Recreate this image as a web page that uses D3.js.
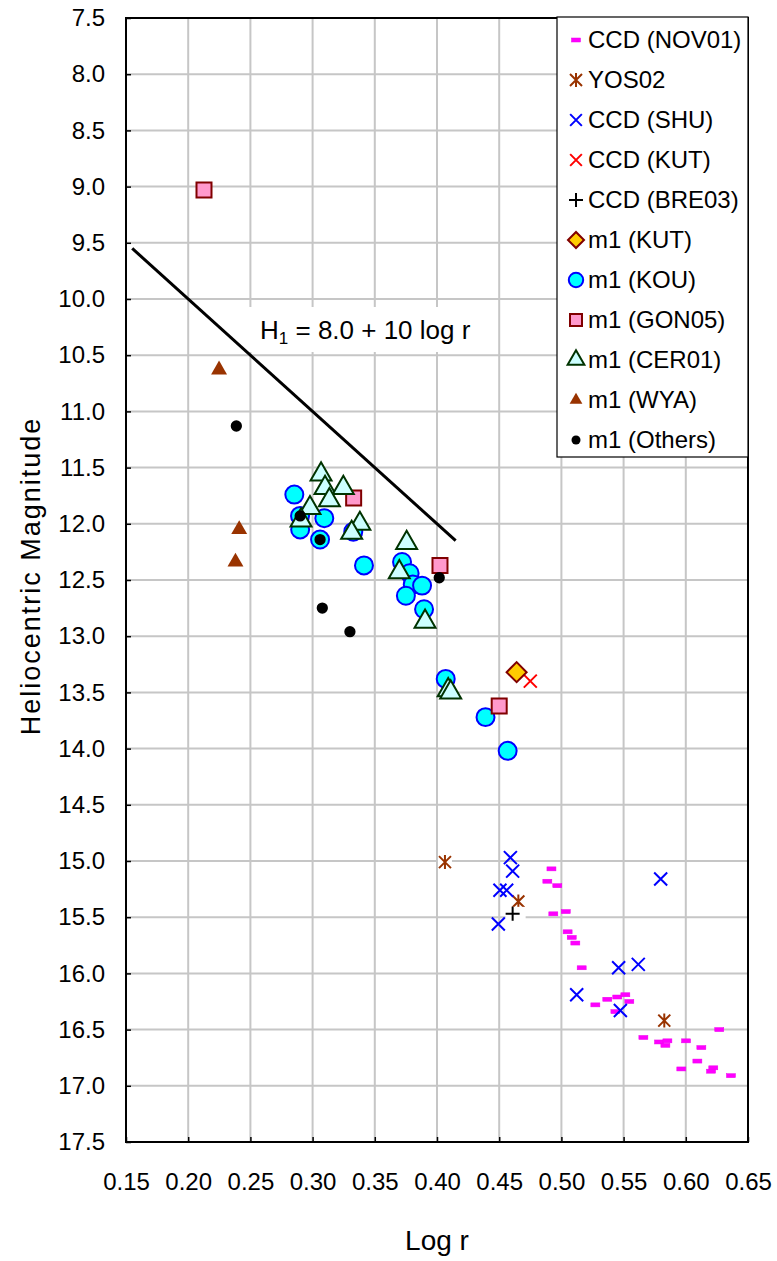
<!DOCTYPE html>
<html>
<head>
<meta charset="utf-8">
<script src="https://cdn.jsdelivr.net/npm/d3@7"></script>
<style>
  body { margin: 0; background: #fff; }
  text { font-family: Arial, "Liberation Sans", sans-serif; }
</style>
</head>
<body>
<div id="chart"></div>
<script>
// axis ticks
const xTicks = [0.15, 0.20, 0.25, 0.30, 0.35, 0.40, 0.45, 0.50, 0.55, 0.60, 0.65];
const yTicks = [7.5, 8.0, 8.5, 9.0, 9.5, 10.0, 10.5, 11.0, 11.5, 12.0, 12.5, 13.0, 13.5, 14.0, 14.5, 15.0, 15.5, 16.0, 16.5, 17.0, 17.5];

// series values [log r, H]
const ccdNov01 = [
  [0.492, 15.07], [0.4887, 15.18], [0.4967, 15.22], [0.4935, 15.47], [0.5035, 15.45],
  [0.505, 15.63], [0.5083, 15.68], [0.5112, 15.73], [0.5163, 15.95], [0.5273, 16.28],
  [0.5369, 16.23], [0.5449, 16.21], [0.5514, 16.19], [0.5546, 16.25], [0.5434, 16.34],
  [0.5659, 16.57], [0.5785, 16.61], [0.5852, 16.60], [0.5836, 16.64], [0.6002, 16.60],
  [0.6125, 16.66], [0.6269, 16.50], [0.6093, 16.78], [0.5964, 16.85], [0.6221, 16.84],
  [0.6203, 16.87], [0.6363, 16.91]
];
const yos02 = [[0.4064, 15.01], [0.4654, 15.36], [0.5827, 16.42]];
const ccdShu = [
  [0.459, 14.97], [0.4608, 15.09], [0.4506, 15.26], [0.456, 15.26], [0.4493, 15.56],
  [0.5123, 16.19], [0.5798, 15.16], [0.546, 15.95], [0.5618, 15.92], [0.5474, 16.33]
];
const ccdKut = [[0.475, 13.40]];
const ccdBre03 = [[0.4608, 15.47]];
const m1Kut = [[0.464, 13.32]];
const m1Kou = [
  [0.2853, 11.74], [0.2899, 11.93], [0.290, 12.05], [0.3094, 11.95], [0.306, 12.14],
  [0.3327, 12.07], [0.3413, 12.37], [0.3719, 12.34], [0.378, 12.44], [0.3805, 12.54],
  [0.388, 12.55], [0.375, 12.64], [0.3896, 12.76], [0.407, 13.38], [0.439, 13.72],
  [0.4568, 14.02]
];
const m1Gon05 = [[0.2127, 9.03], [0.333, 11.77], [0.4024, 12.37], [0.450, 13.62]];
const m1Cer01 = [
  [0.3068, 11.56], [0.310, 11.68], [0.3247, 11.68], [0.3135, 11.79], [0.2979, 11.86],
  [0.2907, 11.97], [0.338, 12.00], [0.3314, 12.08], [0.3756, 12.17], [0.3697, 12.43],
  [0.3904, 12.87], [0.409, 13.48], [0.411, 13.50]
];
const m1Wya = [[0.2248, 10.63], [0.241, 12.05], [0.238, 12.34]];
const m1Others = [
  [0.2387, 11.13], [0.290, 11.93], [0.306, 12.14], [0.3078, 12.75], [0.330, 12.96],
  [0.4018, 12.48]
];

// H1 = 8.0 + 10 log r line, end points
const lineX = [0.155, 0.415];
const lineY = [9.55, 12.15];

const seriesNames = ["CCD (NOV01)", "YOS02", "CCD (SHU)", "CCD (KUT)", "CCD (BRE03)",
  "m1 (KUT)", "m1 (KOU)", "m1 (GON05)", "m1 (CER01)", "m1 (WYA)", "m1 (Others)"];
const seriesData = [ccdNov01, yos02, ccdShu, ccdKut, ccdBre03, m1Kut, m1Kou, m1Gon05, m1Cer01, m1Wya, m1Others];

const width = 777;
const height = 1261;
const margin = {top: 18, right: 29, bottom: 119, left: 126};

const svg = d3.select("#chart")
  .append("svg")
  .attr("width", width)
  .attr("height", height);

const x = d3.scaleLinear()
  .domain([0.15, 0.65])
  .range([margin.left, width - margin.right]);

const y = d3.scaleLinear()
  .domain([7.5, 17.5])
  .range([margin.top, height - margin.bottom]);

// gridlines
svg.append("g")
  .selectAll("line")
  .data(xTicks)
  .join("line")
  .attr("x1", d => x(d)).attr("x2", d => x(d))
  .attr("y1", y(7.5)).attr("y2", y(17.5))
  .attr("stroke", "#c6c6c6").attr("stroke-width", 2);

svg.append("g")
  .selectAll("line")
  .data(yTicks)
  .join("line")
  .attr("x1", x(0.15)).attr("x2", x(0.65))
  .attr("y1", d => y(d)).attr("y2", d => y(d))
  .attr("stroke", "#c6c6c6").attr("stroke-width", 2);

// axes with inner ticks
const xAxis = d3.axisBottom(x)
  .tickValues(xTicks)
  .tickFormat(d3.format(".2f"))
  .tickSizeInner(-5).tickSizeOuter(0)
  .tickPadding(31);
const yAxis = d3.axisLeft(y)
  .tickValues(yTicks)
  .tickFormat(d3.format(".1f"))
  .tickSizeInner(-5).tickSizeOuter(0)
  .tickPadding(21);

const gx = svg.append("g")
  .attr("transform", `translate(0, ${y(17.5)})`)
  .call(xAxis);
const gy = svg.append("g")
  .attr("transform", `translate(${x(0.15)}, 0)`)
  .call(yAxis);
[gx, gy].forEach(g => {
  g.select(".domain").remove();
  g.selectAll(".tick line").attr("stroke", "#000").attr("stroke-width", 1.5);
  g.selectAll(".tick text").attr("font-size", 24).attr("fill", "#000")
    .attr("font-family", "Arial, 'Liberation Sans', sans-serif");
});

// plot border
svg.append("rect")
  .attr("x", x(0.15)).attr("y", y(7.5))
  .attr("width", x(0.65) - x(0.15)).attr("height", y(17.5) - y(7.5))
  .attr("fill", "none").attr("stroke", "#000").attr("stroke-width", 2);

// axis titles
svg.append("text")
  .attr("transform", `translate(40, ${(y(7.5) + y(17.5)) / 2 - 4}) rotate(-90)`)
  .attr("text-anchor", "middle")
  .attr("font-size", 27)
  .attr("letter-spacing", 2)
  .text("Heliocentric Magnitude");

svg.append("text")
  .attr("x", (x(0.15) + x(0.65)) / 2)
  .attr("y", 1250)
  .attr("text-anchor", "middle")
  .attr("font-size", 28)
  .text("Log r");

// formula label with white box
svg.append("rect")
  .attr("x", 246).attr("y", 307)
  .attr("width", 234).attr("height", 45)
  .attr("fill", "#fff");

const lbl = svg.append("text")
  .attr("x", 260).attr("y", 339)
  .attr("font-size", 26);
lbl.append("tspan").text("H");
lbl.append("tspan").attr("font-size", 17).attr("dy", 5).text("1");
lbl.append("tspan").attr("dy", -5).text(" = 8.0 + 10 log r");

svg.append("line")
  .attr("x1", x(lineX[0])).attr("y1", y(lineY[0]))
  .attr("x2", x(lineX[1])).attr("y2", y(lineY[1]))
  .attr("stroke", "#000").attr("stroke-width", 3);

// marker drawing
function drawMarker(g, kind, big) {
  const s = big ? 1 : 0.8;
  switch (kind) {
    case 0: // dash
      g.append("rect").attr("x", -4.5).attr("y", -2).attr("width", 9).attr("height", 4)
        .attr("fill", "#ff00ff").attr("stroke", "#ee00ee").attr("stroke-width", 0.5);
      break;
    case 1: { // asterisk
      const r = 6;
      if (big) g.append("rect").attr("x", -7).attr("y", -7).attr("width", 14).attr("height", 14).attr("fill", "#fff");
      g.append("path")
        .attr("d", `M${-r},${-r}L${r},${r}M${-r},${r}L${r},${-r}M0,${-r - 1}L0,${r + 1}`)
        .attr("stroke", "#993300").attr("stroke-width", 2).attr("fill", "none");
      break;
    }
    case 2:
    case 3: { // x
      const r = 6.5 * (big ? 1 : 0.9);
      g.append("path")
        .attr("d", `M${-r},${-r}L${r},${r}M${-r},${r}L${r},${-r}`)
        .attr("stroke", kind === 2 ? "#0000ff" : "#ff0000").attr("stroke-width", 2).attr("fill", "none");
      break;
    }
    case 4: { // plus
      const r = 7;
      if (big) g.append("rect").attr("x", -7).attr("y", -7).attr("width", 20).attr("height", 14).attr("fill", "#fff");
      g.append("path")
        .attr("d", `M${-r},0L${r},0M0,${-r}L0,${r}`)
        .attr("stroke", "#000").attr("stroke-width", 2).attr("fill", "none");
      break;
    }
    case 5:
      g.append("path").attr("d", d3.symbol(d3.symbolSquare, 200 * s * s)()).attr("transform", "rotate(45)")
        .attr("fill", "#ffcc00").attr("stroke", "#800000").attr("stroke-width", 2);
      break;
    case 6:
      g.append("path").attr("d", d3.symbol(d3.symbolCircle, 254 * s * s)())
        .attr("fill", "#00ffff").attr("stroke", "#0000ff").attr("stroke-width", 2);
      break;
    case 7:
      g.append("path").attr("d", d3.symbol(d3.symbolSquare, 225 * s * s)())
        .attr("fill", "#ff99cc").attr("stroke", "#800000").attr("stroke-width", 2);
      break;
    case 8:
      g.append("path").attr("d", d3.symbol(d3.symbolTriangle, 190 * s * s)())
        .attr("fill", "#ccffff").attr("stroke", "#003300").attr("stroke-width", 2);
      break;
    case 9:
      g.append("path").attr("d", d3.symbol(d3.symbolTriangle, 110 * s * s)())
        .attr("fill", "#993300");
      break;
    case 10:
      g.append("path").attr("d", d3.symbol(d3.symbolCircle, 100 * s * s)())
        .attr("fill", "#000");
      break;
  }
}

seriesData.forEach((data, i) => {
  svg.append("g")
    .selectAll("g")
    .data(data)
    .join("g")
    .attr("transform", d => `translate(${x(d[0])}, ${y(d[1])})`)
    .each(function() { drawMarker(d3.select(this), i, true); });
});

// legend
const legend = svg.append("g").attr("transform", "translate(557, 17)");
legend.append("rect")
  .attr("width", 191).attr("height", 440)
  .attr("fill", "#fff").attr("stroke", "#000").attr("stroke-width", 1.2);

seriesNames.forEach((name, i) => {
  const row = legend.append("g").attr("transform", `translate(0, ${23 + i * 40})`);
  drawMarker(row.append("g").attr("transform", "translate(19, 0)"), i, false);
  row.append("text")
    .attr("x", 31).attr("dy", "0.35em")
    .attr("font-size", 24)
    .text(name);
});
</script>
</body>
</html>
